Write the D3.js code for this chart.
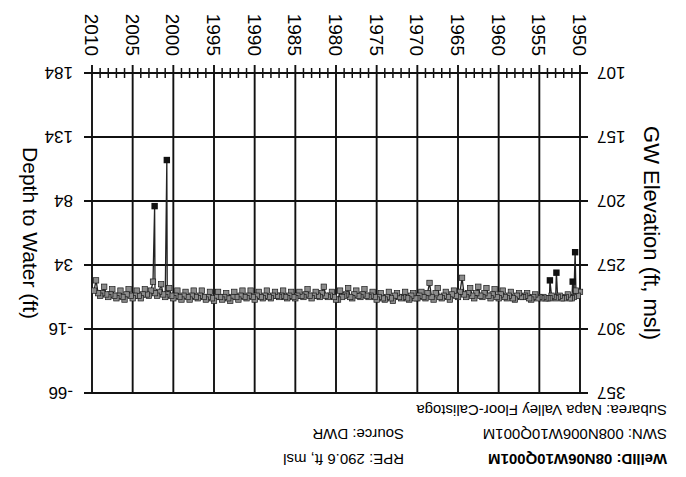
<!DOCTYPE html>
<html><head><meta charset="utf-8">
<script src="https://cdn.jsdelivr.net/npm/d3@7"></script>
<style>body{margin:0;background:#fff}svg{display:block}text{font-family:"Liberation Sans",Arial,sans-serif;fill:#000}</style>
</head><body>
<svg id="c" width="686" height="477"></svg>
<script>
// ---- data ----
const yearTicks = [1950,1955,1960,1965,1970,1975,1980,1985,1990,1995,2000,2005,2010];
const depthTicks = [-66,-16,34,84,134,184];
const elevTicks = [357,307,257,207,157,107];
const infoLeft = ["WellID: 08N06W10Q001M","SWN: 008N006W10Q001M","Subarea: Napa Valley Floor-Calistoga"];
const infoRight = ["RPE: 290.6 ft, msl","Source: DWR"];
// quarterly depth-to-water readings (ft), 1950.00 .. 2009.75
const depthValues = [
13,10,14,9,  8,8,11,9,  8,8,10,9,  8,9,10,8,  8,8,9,8,
9,8,11,9,  7,8,12,10,  9,9,12,10,  7,8,13,10,  8,9,14,11,
8,9,15,11,  8,10,16,12,  9,10,17,12,  8,10,16,12,  9,11,24,13,
9,10,14,11,  7,9,13,10,  8,9,16,12,  7,9,20,12,  8,9,13,10,
8,8,12,10,  7,8,13,9,  8,9,12,10,  6,8,13,9,  7,8,12,9,
7,9,13,10,  9,10,15,11,  9,10,14,11,  8,9,16,11,  10,9,14,7,
7,9,13,10,  9,10,17,12,  9,10,13,10,  8,10,15,11,  9,10,13,10,
8,9,13,10,  8,9,14,10,  9,10,13,10,  8,9,14,10,  8,9,13,10,
7,9,14,10,  8,9,14,10,  7,9,13,9,  6,8,12,9,  7,9,13,9,
6,8,13,9,  7,9,14,10,  8,9,14,10,  7,9,13,10,  7,9,14,10,
8,10,16,11,  9,11,19,13,  10,12,21,14,  10,11,15,11,  8,10,14,10,
8,10,15,11,  7,9,14,10,  8,10,15,11,  9,11,17,12,  10,12,22,14
];
const eventYears = [1950.6, 1950.9, 1952.9, 1953.7, 2000.8, 2002.3];
const eventDepth = [44, 21, 28, 22, 116, 80];

// ---- layout ----
const W = 686, H = 477;
const x = d3.scaleLinear().domain([1950, 2010]).range([106, 594]);
const yD = d3.scaleLinear().domain([-66, 184]).range([84, 404]);
const yE = d3.scaleLinear().domain([357, 107]).range([84, 404]);

const svg = d3.select("#c");
svg.append("rect").attr("width", W).attr("height", H).attr("fill", "#fff");
const g = svg.append("g").attr("transform", `rotate(180,${W/2},${H/2})`);

// grid
const grid = g.append("g").attr("stroke", "#111").attr("stroke-width", 1.9);
yearTicks.forEach(t => grid.append("line").attr("x1", x(t)).attr("x2", x(t)).attr("y1", yD(-66)).attr("y2", yD(184) + 8));
depthTicks.forEach(t => grid.append("line").attr("x1", x(1950) - 8).attr("x2", x(2010) + 8).attr("y1", yD(t)).attr("y2", yD(t)));
// minor yearly ticks on bottom axis
const minor = d3.range(1950, 2011).filter(v => v % 5 !== 0);
g.append("g").attr("stroke", "#111").attr("stroke-width", 1.5)
  .selectAll("line").data(minor).join("line")
  .attr("x1", d => x(d)).attr("x2", d => x(d))
  .attr("y1", yD(184) - 5).attr("y2", yD(184) + 5);

// tick labels
g.append("g").selectAll("text").data(elevTicks).join("text")
  .attr("x", 89).attr("y", d => yE(d)).attr("dy", "0.36em")
  .attr("text-anchor", "end").attr("font-size", 17).text(d => d);
g.append("g").selectAll("text").data(depthTicks).join("text")
  .attr("x", 613).attr("y", d => yD(d)).attr("dy", "0.36em")
  .attr("text-anchor", "start").attr("font-size", 17).text(d => d);
g.append("g").selectAll("text").data(yearTicks).join("text")
  .attr("transform", d => `translate(${x(d)},421) rotate(-90)`)
  .attr("dy", "0.36em").attr("text-anchor", "end").attr("font-size", 19).text(d => d);

// axis titles
g.append("text").attr("transform", `translate(34,${(84+404)/2}) rotate(-90)`)
  .attr("dy", "0.36em").attr("text-anchor", "middle").attr("font-size", 22).text("GW Elevation (ft, msl)");
g.append("text").attr("transform", `translate(655,${(84+404)/2}) rotate(-90)`)
  .attr("dy", "0.36em").attr("text-anchor", "middle").attr("font-size", 21).text("Depth to Water (ft)");

// info text
const infoY = [23, 48, 72];
infoLeft.forEach((t, i) => g.append("text").attr("x", 19).attr("y", infoY[i])
  .attr("font-size", 15).attr("font-weight", i === 0 ? "bold" : "normal").text(t));
infoRight.forEach((t, i) => g.append("text").attr("x", 282).attr("y", infoY[i])
  .attr("font-size", 15).text(t));

// series
const base = depthValues.map((d, i) => ({year: 1950 + i * 0.25, depth: d}));
const ev = eventYears.map((yv, i) => ({year: yv, depth: eventDepth[i]}));
const all = base.concat(ev).sort((a, b) => a.year - b.year);
const line = d3.line().x(d => x(d.year)).y(d => yD(d.depth));
g.append("path").datum(all).attr("d", line).attr("fill", "none")
  .attr("stroke", "#222").attr("stroke-width", 1.3);
g.append("g").selectAll("rect").data(base).join("rect")
  .attr("x", d => x(d.year) - 2.7).attr("y", d => yD(d.depth) - 2.7)
  .attr("width", 5.4).attr("height", 5.4)
  .attr("fill", "#8c8c8c").attr("stroke", "#1a1a1a").attr("stroke-width", 0.7);
g.append("g").selectAll("rect").data(ev).join("rect")
  .attr("x", d => x(d.year) - 3.2).attr("y", d => yD(d.depth) - 3.2)
  .attr("width", 6.4).attr("height", 6.4).attr("fill", "#111");
</script>
</body></html>
